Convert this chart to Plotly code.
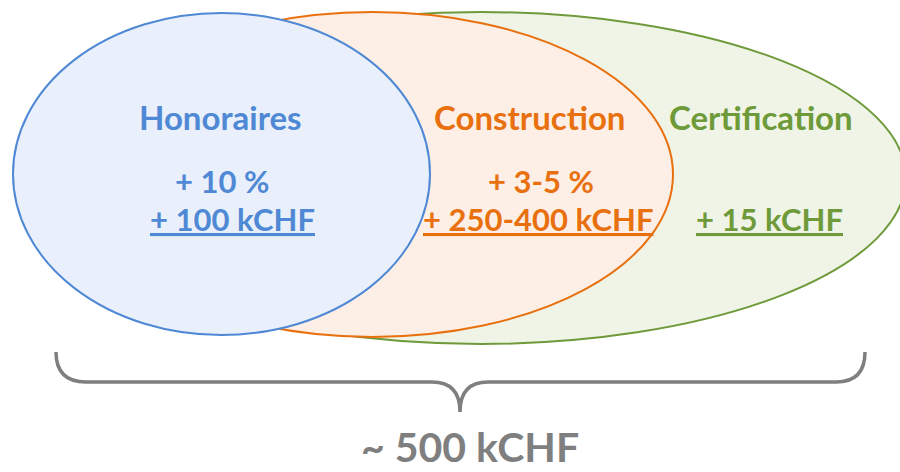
import plotly.graph_objects as go

# ---- content ----
categories = ["Honoraires", "Construction", "Certification"]
pct_labels = ["+ 10 %", "+ 3-5 %", ""]
amount_labels = ["+ 100 kCHF", "+ 250-400 kCHF", "+ 15 kCHF"]
total_label = "~ 500 kCHF"

# ---- styling / geometry (layout, not data) ----
line_colors = ["#4f88d4", "#e8700f", "#6f9a3a"]
fill_colors = ["#e9f0fb", "#fdefe5", "#eff4e7"]
# ellipse boxes (x0, y0, x1, y1) in page pixels, drawn back-to-front order below
ellipses = {
    "Certification": (55, 12, 906, 344),
    "Construction": (72, 12, 673, 337),
    "Honoraires": (13, 13, 430, 335),
}
label_x = [220, 529, 761]
pct_x = [222, 541, 769]
amount_x = [232, 538, 769]
title_y, pct_y, amount_y = 117, 181, 219
brace_color = "#7f7f7f"
font_family = "Lato, Carlito, Calibri, sans-serif"
title_size = 33
value_size = 31

fig = go.Figure()
fig.add_trace(go.Scatter(x=[0, 900], y=[0, 472], mode="markers",
                         marker=dict(opacity=0), hoverinfo="skip", showlegend=False))

shapes = []
for name in ["Certification", "Construction", "Honoraires"]:
    i = categories.index(name)
    x0, y0, x1, y1 = ellipses[name]
    shapes.append(dict(type="circle", xref="x", yref="y", x0=x0, y0=y0, x1=x1, y1=y1,
                       line=dict(color=line_colors[i], width=2),
                       fillcolor=fill_colors[i], layer="below"))

# curly brace
brace = ("M 56 352 Q 56 382 86 382 L 432 382 Q 460 382 460 412 "
         "Q 460 382 488 382 L 836 382 Q 865 382 865 352")
shapes.append(dict(type="path", path=brace, xref="x", yref="y",
                   line=dict(color=brace_color, width=3.5)))

annotations = []
for i, cat in enumerate(categories):
    annotations.append(dict(x=label_x[i], y=title_y, text="<b>%s</b>" % cat, showarrow=False,
                            xref="x", yref="y",
                            font=dict(family=font_family, size=title_size, color=line_colors[i])))
    if pct_labels[i]:
        annotations.append(dict(x=pct_x[i], y=pct_y,
                                text="<b>%s</b>" % pct_labels[i], showarrow=False,
                                xref="x", yref="y",
                                font=dict(family=font_family, size=value_size, color=line_colors[i])))
    annotations.append(dict(x=amount_x[i], y=amount_y, text="<b><u>%s</u></b>" % amount_labels[i],
                            showarrow=False, xref="x", yref="y",
                            font=dict(family=font_family, size=value_size, color=line_colors[i])))

annotations.append(dict(x=470, y=446, text="<b>%s</b>" % total_label, showarrow=False,
                        xref="x", yref="y",
                        font=dict(family=font_family, size=41, color=brace_color)))

fig.update_layout(
    width=900, height=472,
    margin=dict(l=0, r=0, t=0, b=0),
    paper_bgcolor="white", plot_bgcolor="white",
    xaxis=dict(range=[0, 900], visible=False, fixedrange=True),
    yaxis=dict(range=[472, 0], visible=False, fixedrange=True),
    shapes=shapes, annotations=annotations, showlegend=False,
)
fig.write_html("out.html", config={"displayModeBar": False},
               post_script="document.body.style.margin='0';document.body.style.overflow='hidden';")
